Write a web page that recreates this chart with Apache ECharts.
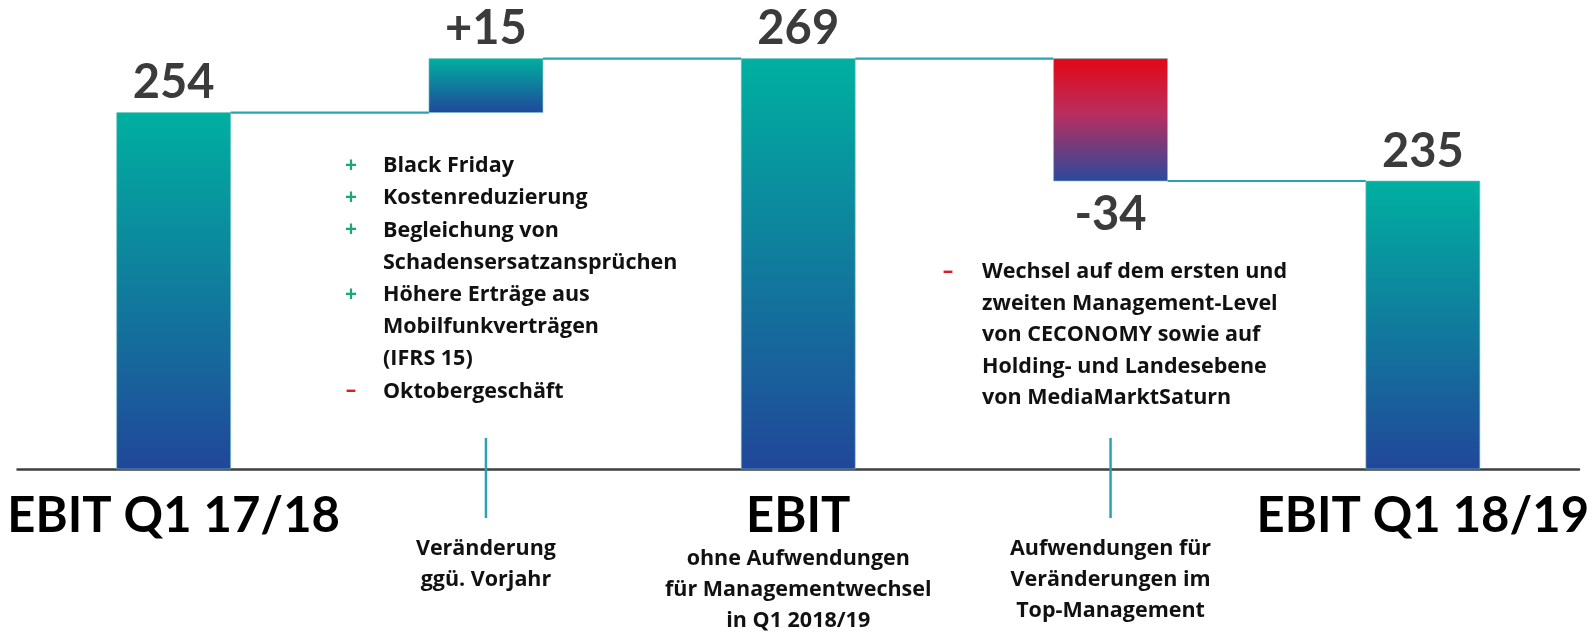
<!DOCTYPE html>
<html lang="de">
<head>
<meta charset="UTF-8">
<title>EBIT Q1</title>
<script src="https://cdn.jsdelivr.net/npm/echarts@6/dist/echarts.min.js"></script>
<style>
    html, body { margin: 0; padding: 0; background: #fff; }
    #main { width: 1593px; height: 634px; }
</style>
</head>
<body>
<div id="main"></div>
<script>
    // categories on the x axis
    var categories = ['EBIT Q1 17/18', 'Veränderung ggü. Vorjahr', 'EBIT', 'Aufwendungen für Veränderungen im Top-Management', 'EBIT Q1 18/19'];
    var categoryLines = [
        ['EBIT Q1 17/18'],
        ['Veränderung', 'ggü. Vorjahr'],
        ['EBIT', 'ohne Aufwendungen', 'für Managementwechsel', 'in Q1 2018/19'],
        ['Aufwendungen für', 'Veränderungen im', 'Top-Management'],
        ['EBIT Q1 18/19']
    ];
    // EBIT in Mio. €, totals and changes
    var values = [254, 15, 269, -34, 235];
    var isTotal = [true, false, true, false, true];
    var valueLabels = ['254', '+15', '269', '-34', '235'];

    // notes next to the change bars
    var upSigns = ['+', '+', '+', '', '+', '', '', '–'];
    var upLines = ['Black Friday', 'Kostenreduzierung', 'Begleichung von', 'Schadensersatzansprüchen',
        'Höhere Erträge aus', 'Mobilfunkverträgen', '(IFRS 15)', 'Oktobergeschäft'];
    var downSigns = ['–', '', '', '', ''];
    var downLines = ['Wechsel auf dem ersten und', 'zweiten Management-Level', 'von CECONOMY sowie auf',
        'Holding- und Landesebene', 'von MediaMarktSaturn'];

    var yMin = 155, yMax = 285;
    var FONT = 'Lato, "Open Sans", sans-serif';
    var SMALL = '"Open Sans", Lato, sans-serif';
    var TEAL = '#2aa3b1';

    // waterfall rows: [index, low, high, level after bar]
    var rows = [];
    var running = 0;
    for (var i = 0; i < values.length; i++) {
        if (isTotal[i]) {
            running = values[i];
            rows.push([i, yMin, values[i], running]);
        } else {
            var start = running;
            running = start + values[i];
            rows.push([i, Math.min(start, running), Math.max(start, running), running]);
        }
    }

    function barFill(i) {
        if (!isTotal[i] && values[i] < 0) {
            return new echarts.graphic.LinearGradient(0, 0, 0, 1, [
                { offset: 0, color: '#e30715' },
                { offset: 0.45, color: '#b92e5e' },
                { offset: 1, color: '#2b4a9c' }
            ]);
        }
        return new echarts.graphic.LinearGradient(0, 0, 0, 1, [
            { offset: 0, color: '#00b0a0' },
            { offset: 1, color: '#21479a' }
        ]);
    }

    function renderItem(params, api) {
        var i = api.value(0);
        var lo = api.value(1), hi = api.value(2);
        var pTop = api.coord([i, hi]);
        var pBot = api.coord([i, lo]);
        var band = api.size([1, 0])[0];
        var bw = band * 0.365;
        var children = [];
        children.push({
            type: 'rect',
            shape: { x: pTop[0] - bw / 2, y: pTop[1], width: bw, height: pBot[1] - pTop[1] },
            style: { fill: barFill(i), stroke: 'rgba(120,200,195,0.6)', lineWidth: 1 }
        });
        // connector to next bar
        if (i < rows.length - 1) {
            var lv = api.coord([i, rows[i][3]]);
            var nx = api.coord([i + 1, rows[i][3]]);
            children.push({
                type: 'line',
                shape: { x1: lv[0] + bw / 2, y1: lv[1], x2: nx[0] - bw / 2, y2: lv[1] },
                style: { stroke: TEAL, lineWidth: 2.2 }
            });
        }
        // value label
        var neg = !isTotal[i] && values[i] < 0;
        children.push({
            type: 'text',
            x: pTop[0],
            y: neg ? pBot[1] + 10 : pTop[1] - 6,
            style: {
                text: valueLabels[i],
                fill: '#3b3b3b',
                font: 'bold 47px ' + FONT,
                align: 'center',
                verticalAlign: neg ? 'top' : 'bottom'
            }
        });
        // tick line under change categories
        if (!isTotal[i]) {
            var base = api.coord([i, yMin]);
            children.push({
                type: 'line',
                shape: { x1: base[0], y1: base[1] - 31, x2: base[0], y2: base[1] + 49 },
                style: { stroke: TEAL, lineWidth: 2.5 }
            });
        }
        return { type: 'group', children: children };
    }

    function noteTexts(signs, lines, signX, textX, top, lh) {
        var out = [];
        for (var k = 0; k < lines.length; k++) {
            if (signs[k]) {
                out.push({
                    type: 'text', x: signX, y: top + k * lh,
                    style: {
                        text: signs[k], fill: signs[k] === '+' ? '#1aa874' : '#d81e27',
                        font: 'bold 21px ' + SMALL, align: 'center', verticalAlign: 'middle'
                    }
                });
            }
            out.push({
                type: 'text', x: textX, y: top + k * lh,
                style: {
                    text: lines[k], fill: '#111',
                    font: 'bold 21.5px ' + SMALL, align: 'left', verticalAlign: 'middle'
                }
            });
        }
        return out;
    }

    var chart = echarts.init(document.getElementById('main'));
    var option = {
        animation: false,
        grid: { left: 17.5, right: 14, top: 1, bottom: 165 },
        xAxis: {
            type: 'category',
            data: categories,
            axisTick: { show: false },
            axisLine: { lineStyle: { color: '#3f3f3f', width: 2.5 } },
            axisLabel: {
                interval: 0,
                margin: 20,
                formatter: function (value, idx) {
                    var ls = categoryLines[idx];
                    if (isTotal[idx]) {
                        var s = '{big|' + ls[0] + '}';
                        for (var k = 1; k < ls.length; k++) s += '\n{sub|' + ls[k] + '}';
                        return s;
                    }
                    return '{pad| }\n' + ls.map(function (t) { return '{sub|' + t + '}'; }).join('\n');
                },
                rich: {
                    big: { fontSize: 49, fontWeight: 'bold', fontFamily: FONT, color: '#000', lineHeight: 54 },
                    sub: { fontSize: 21.5, fontWeight: 'bold', fontFamily: SMALL, color: '#111', lineHeight: 31 },
                    pad: { fontSize: 10, lineHeight: 44 }
                }
            }
        },
        yAxis: {
            type: 'value',
            min: yMin,
            max: yMax,
            show: false
        },
        graphic: noteTexts(upSigns, upLines, 351, 383, 166, 32.2)
            .concat(noteTexts(downSigns, downLines, 948, 982, 272, 31.5)),
        series: [{
            type: 'custom',
            renderItem: renderItem,
            encode: { x: 0, y: [1, 2] },
            data: rows
        }]
    };
    chart.setOption(option);
</script>
</body>
</html>
